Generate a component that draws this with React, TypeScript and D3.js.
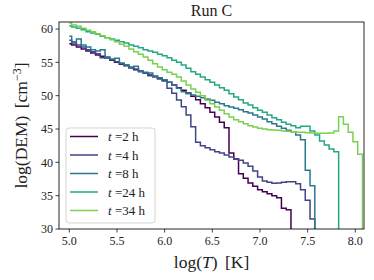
import * as d3 from 'd3'

// bin centres in log(T)
const logT = d3.range(0, 63).map(i => 5 + i * 0.05)

const dem2h = [
  57.8, 57.6, 57.3, 57.0, 56.7, 56.4, 56.1, 55.9, 55.6, 55.3,
  55.0, 54.7, 54.5, 54.2, 53.9, 53.7, 53.4, 53.1, 52.9, 52.6,
  52.3, 52.0, 51.6, 51.2, 50.8, 50.4, 49.9, 49.4, 48.8, 48.2,
  47.5, 46.8, 46.0, 45.2, 41.4, 40.5, 38.3, 37.6, 36.9, 36.4,
  35.9, 35.6, 35.3, 35.0, 34.7, 33.1, 32.9, 20,
]
const dem4h = [
  58.3, 57.9, 57.6, 57.3, 56.9, 56.6, 56.3, 55.7, 55.8, 55.4,
  55.1, 54.8, 54.6, 54.2, 54.0, 53.6, 53.4, 53.0, 52.8, 52.5,
  52.2, 51.1, 50.35, 49.35, 48.35, 47.1, 45.35, 43.0, 42.5, 42.2,
  41.9, 41.6, 41.4, 41.1, 40.8, 40.5, 40.3, 39.9, 39.4, 38.7,
  37.8, 37.2, 37.0, 36.85, 36.9, 37.0, 37.1, 37.1, 36.8, 35.9,
  34.3, 31.5, 20,
]
const dem8h = [
  58.9, 58.1, 58.5, 57.6, 57.3, 56.9, 56.7, 56.9, 55.6, 55.5,
  55.6, 54.9, 54.6, 54.3, 54.4, 53.7, 53.5, 53.4, 52.9, 52.7,
  52.4, 52.0, 51.6, 51.1, 50.6, 50.3, 50.1, 49.9, 49.7, 49.5,
  49.3, 49.0, 48.8, 48.5, 48.3, 48.1, 47.9, 47.6, 47.4, 47.1,
  46.8, 46.5, 46.1, 45.8, 45.4, 45.1, 44.8, 44.6, 44.1, 43.4,
  38.8, 36.5, 20,
]
const dem24h = [
  60.5, 60.3, 60.1, 59.9, 59.6, 59.4, 59.2, 58.9, 58.7, 58.5,
  58.3, 58.1, 57.9, 57.6, 57.4, 57.2, 56.9, 56.7, 56.5, 56.2,
  56.0, 55.7, 55.3, 55.0, 54.6, 54.1, 53.6, 53.2, 52.8, 52.4,
  52.0, 51.6, 51.2, 50.8, 50.3, 49.8, 49.4, 48.9, 48.6, 48.2,
  47.8, 47.5, 47.1, 46.7, 46.4, 46.0, 45.7, 45.5, 45.2, 45.4,
  45.4, 44.7, 44.1, 43.2, 42.6, 42.0, 41.6, 20,
]
const dem34h = [
  60.9, 60.6, 60.4, 60.1, 59.8, 59.6, 59.3, 59.0, 58.7, 58.4,
  58.1, 57.7, 57.4, 57.0, 56.6, 56.2, 55.8, 55.3, 54.8, 54.3,
  53.9, 53.5, 53.2, 52.8, 52.2, 51.6, 51.0, 50.5, 50.0, 49.3,
  48.8, 48.3, 47.8, 47.3, 46.8, 46.4, 46.1, 45.8, 45.5, 45.3,
  45.1, 45.0, 44.9, 44.85, 44.8, 44.7, 44.65, 44.6, 44.5, 44.5,
  44.45, 44.4, 44.35, 44.35, 44.35, 44.4, 44.7, 46.85, 45.7, 44.5,
  43.1, 41.2, 20,
]

const seriesLabels = ['2', '4', '8', '24', '34']
const seriesValues = [dem2h, dem4h, dem8h, dem24h, dem34h]
const xTicks = [5.0, 5.5, 6.0, 6.5, 7.0, 7.5, 8.0]
const yTicks = [30, 35, 40, 45, 50, 55, 60]

const W = 374
const H = 280
const plot = { left: 59, right: 364, top: 22, bottom: 229 }
const font = '"Liberation Serif", "DejaVu Serif", serif'

export default function App() {
  const x = d3.scaleLinear().domain([4.892, 8.091]).range([plot.left, plot.right])
  const y = d3.scaleLinear().domain([30, 61.05]).range([plot.bottom, plot.top])
  const color = (i: number) => d3.interpolateViridis(i / 5)

  const line = d3.line<number>()
    .x((_, i) => x(logT[i]))
    .y(d => y(d))
    .curve(d3.curveStep)

  const legendRow = (i: number) => 136.5 + i * 18.5

  return (
    <div style={{ position: 'absolute', left: 0, top: 0 }}>
      <svg width={W} height={H} style={{ display: 'block', background: '#fff' }} fontFamily={font}>
        <defs>
          <clipPath id="plotclip">
            <rect x={plot.left} y={plot.top} width={plot.right - plot.left} height={plot.bottom - plot.top} />
          </clipPath>
        </defs>

        <text x={(plot.left + plot.right) / 2} y={16} textAnchor="middle" fontSize={16} fill="#222">Run C</text>

        <g clipPath="url(#plotclip)">
          {seriesValues.map((vals, i) => (
            <path key={i} d={line(vals) || ''} fill="none" stroke={color(i)} strokeWidth={1.5} strokeLinejoin="miter" />
          ))}
        </g>

        {/* frame */}
        <rect x={plot.left} y={plot.top} width={plot.right - plot.left} height={plot.bottom - plot.top}
          fill="none" stroke="#111" strokeWidth={0.9} />

        {/* x axis */}
        {xTicks.map(t => (
          <g key={t} transform={`translate(${x(t)},${plot.bottom})`}>
            <line y1={0} y2={3.5} stroke="#111" strokeWidth={0.8} />
            <text y={15.5} textAnchor="middle" fontSize={12} fill="#222">{d3.format('.1f')(t)}</text>
          </g>
        ))}
        <text x={(plot.left + plot.right) / 2} y={268} textAnchor="middle" fontSize={17.5} fill="#222" wordSpacing={3}>
          log(<tspan fontStyle="italic">T</tspan>) [K]
        </text>

        {/* y axis */}
        {yTicks.map(t => (
          <g key={t} transform={`translate(${plot.left},${y(t)})`}>
            <line x1={0} x2={-3.5} stroke="#111" strokeWidth={0.8} />
            <text x={-6} dy="0.35em" textAnchor="end" fontSize={12} fill="#222">{t}</text>
          </g>
        ))}
        <text transform={`translate(27,${(plot.top + plot.bottom) / 2}) rotate(-90)`} textAnchor="middle" fontSize={17.5} fill="#222" wordSpacing={3}>
          log(DEM) [cm<tspan dy={-6} fontSize={12}>−3</tspan><tspan dy={6}>]</tspan>
        </text>

        {/* legend */}
        <rect x={66} y={128} width={89} height={95} rx={3} fill="#fff" fillOpacity={0.8} stroke="#d0d0d0" strokeWidth={0.9} />
        {seriesLabels.map((lab, i) => (
          <g key={lab}>
            <line x1={70} x2={98} y1={legendRow(i)} y2={legendRow(i)} stroke={color(i)} strokeWidth={1.5} />
            <text x={108} y={legendRow(i)} dy="0.35em" fontSize={13} fill="#222">
              <tspan fontStyle="italic">t</tspan> =<tspan>{lab}</tspan> h
            </text>
          </g>
        ))}
      </svg>
    </div>
  )
}
